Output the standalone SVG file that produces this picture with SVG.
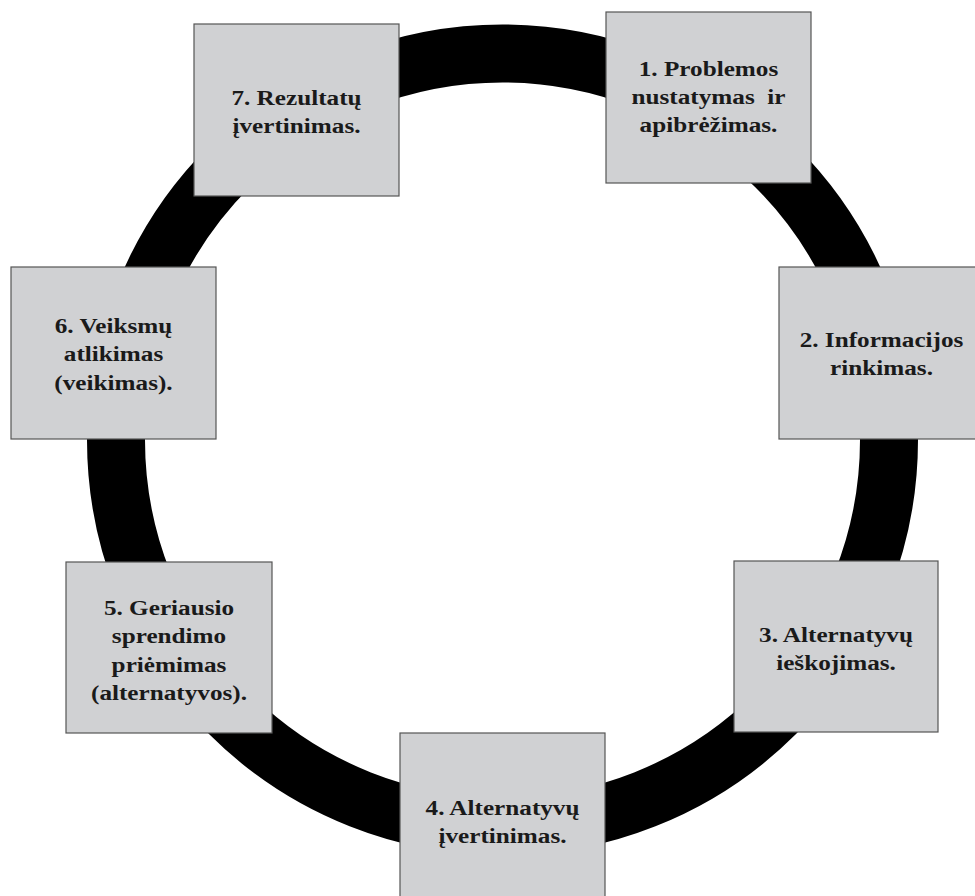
<svg xmlns="http://www.w3.org/2000/svg" width="975" height="896" viewBox="0 0 975 896">
  <style>
    .box { fill: #d0d1d3; stroke: #555555; stroke-width: 1.2; }
    .lbl { font-family: "Liberation Serif", "Times New Roman", serif; font-weight: bold; font-size: 21px; fill: #1a1a1a; text-anchor: middle; }
    .ring { fill: none; stroke: #000000; stroke-width: 58; }
  </style>

  <rect width="975" height="896" fill="#ffffff"/>

  <!-- cycle ring linking the stages -->
  <g id="connectors">
    <circle class="ring" cx="502.5" cy="440" r="386.5"/>
  </g>

  <g id="stage-1">
    <rect class="box" x="606" y="12" width="205" height="171"/>
    <g transform="translate(708.5,0) scale(1.2,1)">
      <text class="lbl" x="0" y="76">1. Problemos</text>
      <text class="lbl" x="0" y="104" xml:space="preserve">nustatymas  ir</text>
      <text class="lbl" x="0" y="132">apibrėžimas.</text>
    </g>
  </g>

  <g id="stage-2">
    <rect class="box" x="779" y="267" width="205" height="172"/>
    <g transform="translate(881.5,0) scale(1.2,1)">
      <text class="lbl" x="0" y="347">2. Informacijos</text>
      <text class="lbl" x="0" y="375">rinkimas.</text>
    </g>
  </g>

  <g id="stage-3">
    <rect class="box" x="734" y="561" width="204" height="171"/>
    <g transform="translate(836,0) scale(1.2,1)">
      <text class="lbl" x="0" y="642">3. Alternatyvų</text>
      <text class="lbl" x="0" y="670">ieškojimas.</text>
    </g>
  </g>

  <g id="stage-4">
    <rect class="box" x="400" y="733" width="205" height="172"/>
    <g transform="translate(502.5,0) scale(1.2,1)">
      <text class="lbl" x="0" y="815">4. Alternatyvų</text>
      <text class="lbl" x="0" y="843">įvertinimas.</text>
    </g>
  </g>

  <g id="stage-5">
    <rect class="box" x="66" y="562" width="206" height="171"/>
    <g transform="translate(169,0) scale(1.2,1)">
      <text class="lbl" x="0" y="615">5. Geriausio</text>
      <text class="lbl" x="0" y="643.5">sprendimo</text>
      <text class="lbl" x="0" y="672">priėmimas</text>
      <text class="lbl" x="0" y="700">(alternatyvos).</text>
    </g>
  </g>

  <g id="stage-6">
    <rect class="box" x="11" y="267" width="205" height="172"/>
    <g transform="translate(113.5,0) scale(1.2,1)">
      <text class="lbl" x="0" y="333">6. Veiksmų</text>
      <text class="lbl" x="0" y="361.5">atlikimas</text>
      <text class="lbl" x="0" y="390">(veikimas).</text>
    </g>
  </g>

  <g id="stage-7">
    <rect class="box" x="194" y="24" width="205" height="172"/>
    <g transform="translate(296.5,0) scale(1.2,1)">
      <text class="lbl" x="0" y="105.5">7. Rezultatų</text>
      <text class="lbl" x="0" y="133">įvertinimas.</text>
    </g>
  </g>
</svg>
